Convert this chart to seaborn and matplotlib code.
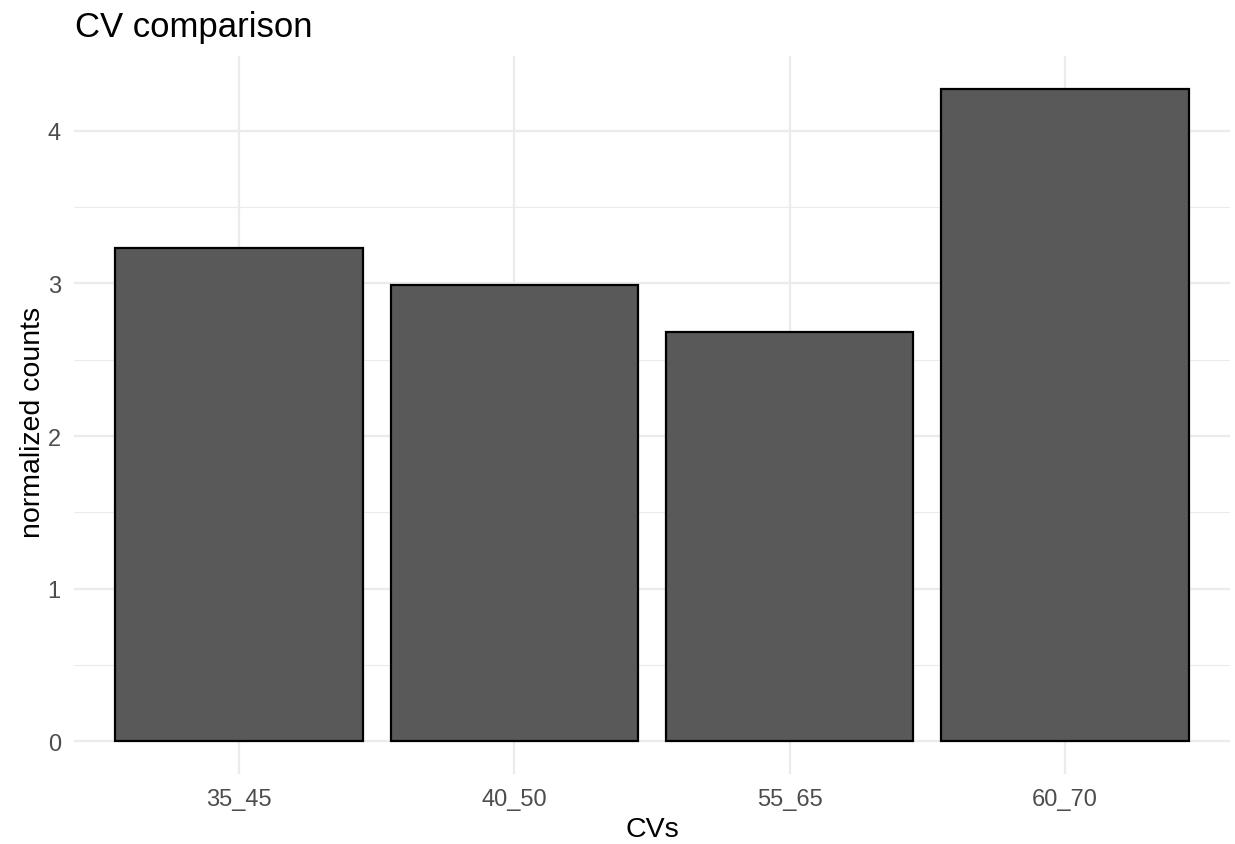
import matplotlib
matplotlib.use("Agg")
import matplotlib.pyplot as plt
import seaborn as sns
import pandas as pd

categories = ["35_45", "40_50", "55_65", "60_70"]
values = [3.232, 2.99, 2.68, 4.276]
y_ticks = [0, 1, 2, 3, 4]
title = "CV comparison"
x_label = "CVs"
y_label = "normalized counts"

df = pd.DataFrame({"cv": categories, "counts": values})

sns.set_theme(style="white")
plt.rcParams["font.family"] = ["Liberation Sans", "DejaVu Sans"]

W, H = 1235, 845
fig = plt.figure(figsize=(12.35, 8.45), dpi=100)
ax = fig.add_axes([74/W, 1-775/H, (1230-74)/W, (775-57)/H])

grid_c = "#EBEBEB"
for y in [0.5, 1.5, 2.5, 3.5]:
    ax.axhline(y, color=grid_c, lw=0.8, zorder=0)
for y in y_ticks:
    ax.axhline(y, color=grid_c, lw=1.6, zorder=0)
for x in range(len(categories)):
    ax.axvline(x, color=grid_c, lw=1.6, zorder=0)

sns.barplot(data=df, x="cv", y="counts", color="#595959", edgecolor="black",
            linewidth=1.6, width=0.9, saturation=1, ax=ax, zorder=2)

ax.set_xlim(-0.6, 3.6)
ax.set_ylim(-0.2138, 4.49)
ax.set_yticks(y_ticks)
ax.set_yticklabels([str(t) for t in y_ticks])
for s in ax.spines.values():
    s.set_visible(False)
ax.tick_params(axis="both", length=0, labelsize=17, labelcolor="#4D4D4D")
ax.tick_params(axis="y", pad=9.5)
ax.tick_params(axis="x", pad=10)
ax.set_xlabel("")
ax.set_ylabel("")
fig.text(652/W, 1-830/H, x_label, fontsize=20.5, color="black", va="center", ha="center")
fig.text(33/W, 1-422/H, y_label, fontsize=20.5, color="black", va="center", ha="center",
         rotation=90)
fig.text(75/W, 1-37/H, title, fontsize=25, color="black", va="baseline", ha="left")

fig.savefig("out.png", dpi=100, facecolor="white")
